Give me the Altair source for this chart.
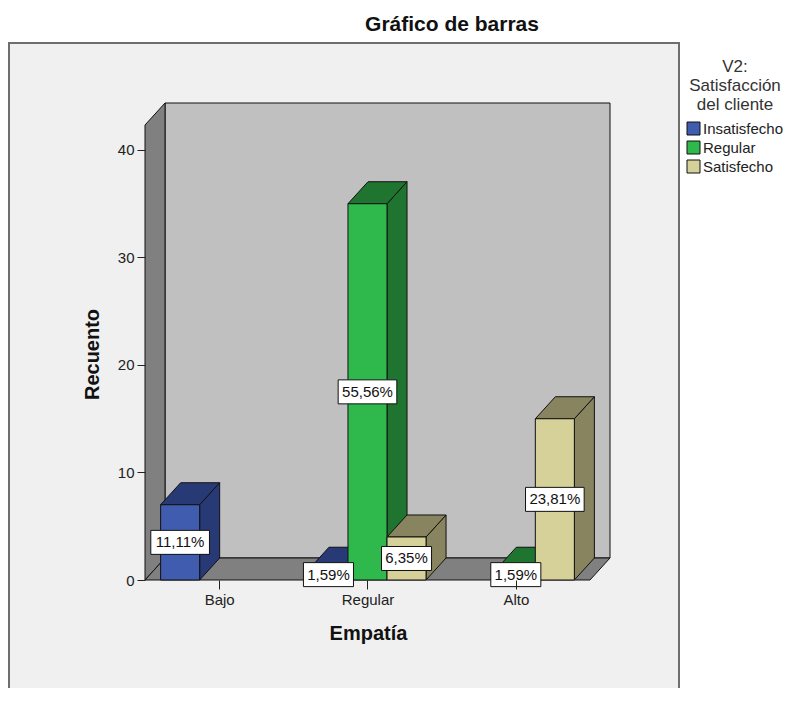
import json
import altair as alt
import pandas as pd

# ---------------- data ----------------
title_text = "Gráfico de barras"
categories = ["Bajo", "Regular", "Alto"]
series = ["Insatisfecho", "Regular", "Satisfecho"]
counts_insatisfecho = [7, 1, 0]
counts_regular = [0, 35, 1]
counts_satisfecho = [0, 4, 15]
y_ticks = [0, 10, 20, 30, 40]
legend_title = ["V2:", "Satisfacción", "del cliente"]
x_title = "Empatía"
y_title = "Recuento"

front_colors = ["#3f5cae", "#2fb84b", "#d6d099"]
dark_colors = ["#273a75", "#1f7530", "#87845f"]

FONT = "Liberation Sans"

counts = [counts_insatisfecho, counts_regular, counts_satisfecho]
total = sum(sum(c) for c in counts)

# ---------------- geometry (x in bar widths, y in counts) ----------------
GAP = 0.8
GROUP = 3 + GAP
DX = 0.513
DY = 2.047
X_MAX = len(categories) * GROUP
Y_TOP = 44.37
WALL_TOP = Y_TOP - DY
PX_X = 39.0
PX_Y = 10.75
W = round((X_MAX + DX) * PX_X)
H = round(Y_TOP * PX_Y)

fronts, sides, tops, labels = [], [], [], []
bid = 0
for ci, cat in enumerate(categories):
    for si, s in enumerate(series):
        v = counts[si][ci]
        if v == 0:
            continue
        x0 = ci * GROUP + GAP / 2 + si
        x1 = x0 + 1
        fronts.append(dict(id=bid, series=s, x=x0, x2=x1, y=0, y2=v))
        sides.append(dict(id=bid, dark=dark_colors[si], x=x1, y=0, y2=v))
        sides.append(dict(id=bid, dark=dark_colors[si], x=x1 + DX, y=DY, y2=v + DY))
        tops.append(dict(id=bid, dark=dark_colors[si], y=v, x=x0, x2=x1))
        tops.append(dict(id=bid, dark=dark_colors[si], y=v + DY, x=x0 + DX, x2=x1 + DX))
        txt = f"{v / total * 100:.2f}".replace(".", ",") + "%"
        hw = (8.6 * len(txt) + 7) / PX_X / 2
        hh = 12 / PX_Y
        xc, yc = (x0 + x1) / 2, v / 2
        labels.append(dict(txt=txt, xc=xc, yc=yc, x=xc - hw, x2=xc + hw, y=yc - hh, y2=yc + hh))
        bid += 1

df_front = pd.DataFrame(fronts)
df_side = pd.DataFrame(sides)
df_top = pd.DataFrame(tops)
df_lab = pd.DataFrame(labels)
df_back = pd.DataFrame([dict(x=DX, x2=X_MAX + DX, y=DY, y2=Y_TOP)])
df_left = pd.DataFrame([dict(x=0, y=0, y2=WALL_TOP), dict(x=DX, y=DY, y2=Y_TOP)])
df_floor = pd.DataFrame([dict(y=0, x=0, x2=X_MAX), dict(y=DY, x=DX, x2=X_MAX + DX)])
df_one = pd.DataFrame([dict(a=1)])

# ---------------- scales & axes ----------------
xs = alt.Scale(domain=[0, X_MAX + DX], nice=False, zero=False)
ys = alt.Scale(domain=[0, Y_TOP], nice=False, zero=True)
centers = [ci * GROUP + GAP / 2 + 1.5 for ci in range(len(categories))]
x_axis = alt.Axis(
    values=centers,
    labelExpr=f"{json.dumps(categories)}[round((datum.value - {centers[0]}) / {GROUP})]",
    domain=False, grid=False, tickSize=9, tickColor="#222", labelFontSize=15,
    labelColor="#222", labelPadding=3, labelFont=FONT, zindex=1,
    title=x_title, titleFontSize=20, titleFont=FONT, titleFontWeight="bold", titleColor="#111",
    titleX=223, titleY=53, titleBaseline="middle", titleAlign="center",
)
y_axis = alt.Axis(
    values=y_ticks, domain=False, grid=False, tickSize=8, tickColor="#222",
    labelFontSize=15, labelColor="#222", labelPadding=3, labelFont=FONT, zindex=1,
    title=y_title, titleFontSize=20, titleFont=FONT, titleFontWeight="bold", titleColor="#111",
    titleX=-53, titleY=251, titleAngle=270, titleBaseline="middle", titleAlign="center",
)


def X(f="x"):
    return alt.X(f"{f}:Q", scale=xs, axis=x_axis, stack=None)


def Y(f="y"):
    return alt.Y(f"{f}:Q", scale=ys, axis=y_axis, stack=None)


# ---------------- layers ----------------
panel = alt.Chart(df_one).mark_rect(fill="#f0f0f0", stroke="#6e6e6e", strokeWidth=2).encode(
    x=alt.value(-136), x2=alt.value(534), y=alt.value(-60), y2=alt.value(620)
)
title = alt.Chart(df_one).mark_text(
    text=title_text, font=FONT, fontSize=21, fontWeight="bold", color="#111",
    align="center", baseline="middle"
).encode(x=alt.value(307), y=alt.value(-78))

back = alt.Chart(df_back).mark_rect(fill="#c0c0c0", stroke="#111", strokeWidth=1).encode(
    x=X(), x2="x2:Q", y=Y(), y2="y2:Q"
)
left = alt.Chart(df_left).mark_area(fill="#808080", stroke="#111", strokeWidth=1, orient="vertical").encode(
    x=X(), y=Y(), y2="y2:Q"
)
floor = alt.Chart(df_floor).mark_area(fill="#808080", stroke="#111", strokeWidth=1, orient="horizontal").encode(
    y=Y(), x=X(), x2="x2:Q"
)
side = alt.Chart(df_side).mark_area(stroke="#111", strokeWidth=1, orient="vertical", opacity=1).encode(
    x=X(), y=Y(), y2="y2:Q", detail="id:N", color=alt.Color("dark:N", scale=None)
)
top = alt.Chart(df_top).mark_area(stroke="#111", strokeWidth=1, orient="horizontal", opacity=1).encode(
    y=Y(), x=X(), x2="x2:Q", detail="id:N", color=alt.Color("dark:N", scale=None)
)
front = alt.Chart(df_front).mark_rect(stroke="#111", strokeWidth=1).encode(
    x=X(), x2="x2:Q", y=Y(), y2="y2:Q",
    fill=alt.Fill(
        "series:N",
        scale=alt.Scale(domain=series, range=front_colors),
        legend=alt.Legend(
            orient="none", legendX=541, legendY=-44, padding=0,
            title=legend_title, titleFontSize=17, titleFont=FONT, titleFontWeight="normal",
            titleColor="#333", titleAlign="center", titleAnchor="middle", titleLineHeight=19,
            titlePadding=7, labelFontSize=15, labelFont=FONT, labelColor="#222", labelOffset=2,
            symbolType="square", symbolSize=169, symbolStrokeColor="#111", symbolStrokeWidth=1,
            symbolOpacity=1, rowPadding=2,
        ),
    ),
)
lab_box = alt.Chart(df_lab).mark_rect(fill="white", stroke="#111", strokeWidth=1).encode(
    x=X(), x2="x2:Q", y=Y(), y2="y2:Q"
)
lab_txt = alt.Chart(df_lab).mark_text(font=FONT, fontSize=15, color="#111", align="center", baseline="middle").encode(
    x=X("xc"), y=Y("yc"), text="txt:N"
)

chart = alt.layer(panel, title, back, left, floor, side, top, front, lab_box, lab_txt).properties(
    width=W, height=H,
    autosize=alt.AutoSizeParams(type="none"),
    padding={"left": 137, "top": 95, "right": 175, "bottom": 108},
).configure_view(stroke=None).configure(background="white")

chart.save("out.html", embed_options={"renderer": "svg", "actions": False})
